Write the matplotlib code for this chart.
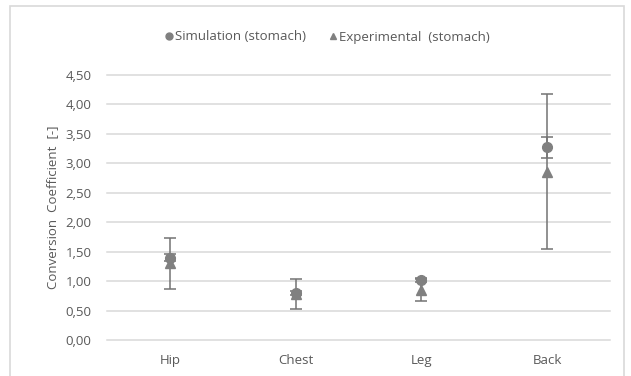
import matplotlib.pyplot as plt
import numpy as np
from matplotlib.patches import Rectangle
from matplotlib.lines import Line2D
from matplotlib.ticker import FuncFormatter

# conversion coefficients per dosimeter position
positions = ["Hip", "Chest", "Leg", "Back"]
sim_values = [1.40, 0.80, 1.02, 3.27]
sim_errors = [0.06, 0.04, 0.04, 0.18]
exp_values = [1.30, 0.78, 0.85, 2.86]
exp_errors = [0.44, 0.25, 0.18, 1.32]
y_ticks = [0.0, 0.5, 1.0, 1.5, 2.0, 2.5, 3.0, 3.5, 4.0, 4.5]

plt.rcParams['font.family'] = ['Open Sans', 'DejaVu Sans']
text_col = '#595959'
mark_col = '#808080'
bar_col = '#737373'
grid_col = '#d9d9d9'
fs = 9.5

fig = plt.figure(figsize=(6.31, 3.76), dpi=100)
ax = fig.add_axes([107 / 631, 1 - 340 / 376, 503 / 631, 265 / 376])

# chart frame
fig.patches.append(Rectangle((10 / 631, -0.05), 614 / 631, 1.05 - 6 / 376,
                             transform=fig.transFigure, fill=False,
                             edgecolor=grid_col, linewidth=1.2))

x = np.arange(len(positions))

ax.errorbar(x, exp_values, yerr=exp_errors, fmt='^', color=mark_col,
            ecolor=bar_col, elinewidth=1.1, capsize=4, capthick=1.1,
            markersize=7, zorder=3)
ax.errorbar(x, sim_values, yerr=sim_errors, fmt='o', color=mark_col,
            ecolor=bar_col, elinewidth=1.1, capsize=4, capthick=1.1,
            markersize=7, zorder=4)

ax.set_xlim(-0.5, len(positions) - 0.5)
ax.set_ylim(0, 4.5)
ax.set_yticks(y_ticks)
ax.yaxis.set_major_formatter(FuncFormatter(lambda v, p: f"{v:.2f}".replace('.', ',')))
ax.set_xticks(x)
ax.set_xticklabels(positions)
ax.yaxis.grid(True, color=grid_col, linewidth=1.1, clip_on=False)
ax.set_axisbelow(True)
for s in ax.spines.values():
    s.set_visible(False)
ax.tick_params(axis='y', length=0, pad=11, labelsize=fs, labelcolor=text_col)
ax.tick_params(axis='x', length=0, pad=10, labelsize=fs, labelcolor=text_col)

ax.set_ylabel('Conversion  Coefficient  [-]', fontsize=fs, color=text_col, labelpad=5)

handles = [
    Line2D([], [], linestyle='none', marker='o', color=mark_col, markersize=5),
    Line2D([], [], linestyle='none', marker='^', color=mark_col, markersize=5),
]
labels = ['Simulation (stomach)', 'Experimental  (stomach)']
leg = fig.legend(handles, labels, loc='center', ncol=2,
                 bbox_to_anchor=(328 / 631, 1 - 37 / 376), frameon=False,
                 fontsize=fs, handlelength=0.5, handletextpad=0.2,
                 columnspacing=1.8)
for t in leg.get_texts():
    t.set_color(text_col)

fig.savefig('out.png', dpi=100)
